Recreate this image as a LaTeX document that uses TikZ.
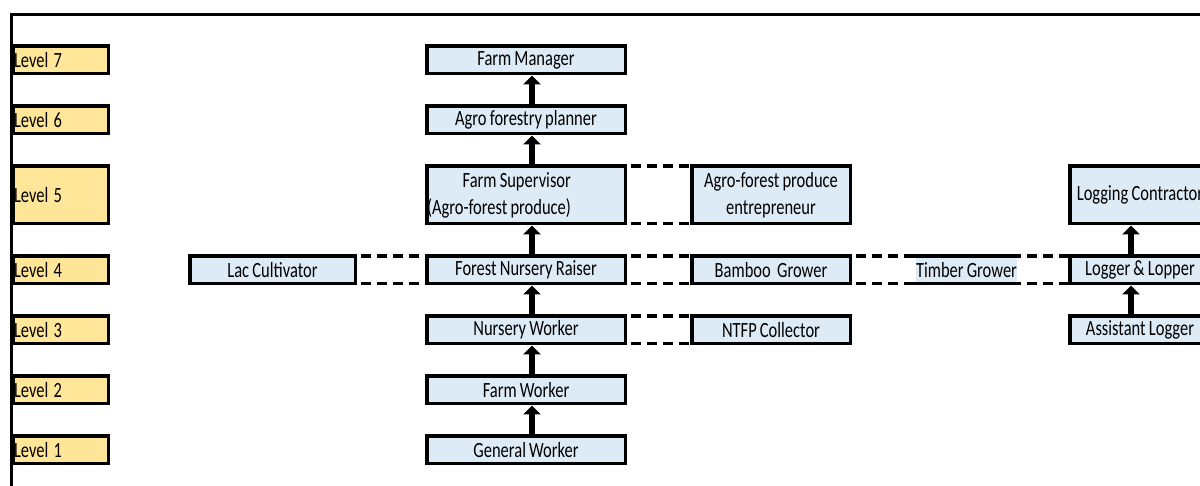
\documentclass[tikz,border=0pt]{standalone}
\usepackage{fontspec}
\setmainfont{Carlito}[FakeStretch=0.76, WordSpace=0.85]
\usetikzlibrary{arrows.meta}
\definecolor{lvlyellow}{HTML}{FFE699}
\definecolor{jobblue}{HTML}{DDEBF7}

\begin{document}
\begin{tikzpicture}[x=1pt, y=1pt,
    font=\fontsize{21.7}{27}\selectfont,
    lvl/.style={draw, line width=3.5pt, fill=lvlyellow, outer sep=0pt,
        inner xsep=1.25pt, inner ysep=0pt, text width=93pt, align=left,
        minimum height=27.5pt},
    job/.style={draw, line width=3.5pt, fill=jobblue, outer sep=0pt,
        inner sep=0pt, minimum height=27.5pt, align=center},
    link/.style={line width=3.5pt, dash pattern=on 10pt off 6pt, dash phase=10pt},
    up/.style={line width=6pt, -{Triangle[width=17pt,length=9pt]},
        shorten >=1.75pt, shorten <=1.75pt}]
    \useasboundingbox (0,0) rectangle (1200,486);
    \draw[line width=3pt] (1200,471) -- (11,471) -- (11,0);

    % levels
    \node[lvl] (l7) at (60.5,426) {Level\kern-2pt\ 7};
    \node[lvl] (l6) at (60.5,366) {Level\kern-2pt\ 6};
    \node[lvl, minimum height=57.5pt] (l5) at (60.5,291) {Level\kern-2pt\ 5};
    \node[lvl] (l4) at (60.5,216) {Level\kern-2pt\ 4};
    \node[lvl] (l3) at (60.5,156) {Level\kern-2pt\ 3};
    \node[lvl] (l2) at (60.5,96) {Level\kern-2pt\ 2};
    \node[lvl] (l1) at (60.5,36) {Level\kern-2pt\ 1};

    % main ladder
    \node[job, minimum width=198.5pt] (gen) at (526,36) {General Worker};
    \node[job, minimum width=198.5pt] (farm) at (526,96) {Farm Worker};
    \node[job, minimum width=198.5pt] (nurs) at (526,156) {Nursery Worker};
    \node[job, minimum width=198.5pt] (fnr) at (526,216) {Forest Nursery Raiser};
    \node[job, minimum width=198.5pt, minimum height=57.5pt, align=right] (sup) at (526,291)
        {Farm Supervisor\hspace*{54pt}\\(Agro-forest produce)\hspace*{54pt}};
    \node[job, minimum width=198.5pt] (plan) at (526,366) {Agro forestry planner};
    \node[job, minimum width=198.5pt] (mgr) at (526,426) {Farm Manager};

    \node[job, minimum width=165.5pt] (lac) at (272.5,216) {Lac Cultivator};
    \node[job, minimum width=158.5pt] (ntfp) at (771,156) {NTFP Collector};
    \node[job, minimum width=158.5pt] (bamboo) at (771,216) {Bamboo\ \ Grower};
    \node[job, minimum width=158.5pt, minimum height=57.5pt] (agro) at (771,291)
        {Agro-forest produce\\entrepreneur};
    \node[job, draw=none, minimum width=93pt] (timber) at (966.5,216) {Timber Grower};

    \node[job, minimum width=140.5pt] (asst) at (1140,156) {Assistant Logger};
    \node[job, minimum width=140.5pt] (logger) at (1140,216) {Logger \& Lopper};
    \node[job, minimum width=140.5pt, minimum height=57.5pt] (contr) at (1140,291) {Logging Contractor};

    % dashed links
    \foreach \a/\b in {lac/fnr, fnr/bamboo, nurs/ntfp, sup/agro} {
        \draw[link] (\a.north east) -- (\b.north west);
        \draw[link] (\a.south east) -- (\b.south west);
    }
    \draw[link] (bamboo.north east) -- ([xshift=-10pt]timber.north west);
    \draw[link] (bamboo.south east) -- ([xshift=-10pt]timber.south west);
    \draw[link] ([xshift=4pt]timber.north east) -- (logger.north west);
    \draw[link] ([xshift=4pt]timber.south east) -- (logger.south west);
    \draw[line width=3.5pt] ([xshift=-10pt]timber.north west) -- ([xshift=4pt]timber.north east);
    \draw[line width=3.5pt] ([xshift=-10pt]timber.south west) -- ([xshift=4pt]timber.south east);

    % arrows
    \foreach \a/\b in {gen/farm, farm/nurs, nurs/fnr, fnr/sup, sup/plan, plan/mgr}
        \draw[up] ([xshift=6pt]\a.north) -- ([xshift=6pt]\b.south);
    \draw[up] ([xshift=-9pt]asst.north) -- ([xshift=-9pt]logger.south);
    \draw[up] ([xshift=-9pt]logger.north) -- ([xshift=-9pt]contr.south);
\end{tikzpicture}
\end{document}
